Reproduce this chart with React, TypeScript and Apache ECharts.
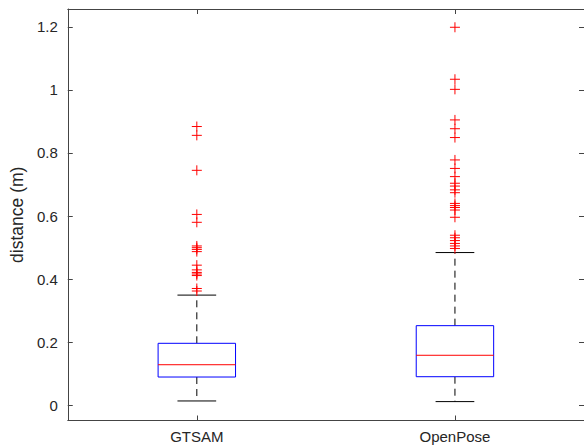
import React, { useEffect, useRef } from "react";
import * as echarts from "echarts";

const categories = ["GTSAM", "OpenPose"];
const lowerWhisker = [0.013, 0.011];
const q1 = [0.089, 0.09];
const median = [0.128, 0.158];
const q3 = [0.196, 0.252];
const upperWhisker = [0.349, 0.484];
const gtsamOutliers = [
  0.884, 0.856, 0.745, 0.605, 0.58, 0.505, 0.4995, 0.494, 0.487, 0.444, 0.429,
  0.421, 0.416, 0.411, 0.37, 0.362,
];
const openposeOutliers = [
  1.199, 1.034, 1.002, 0.905, 0.877, 0.849, 0.778, 0.751, 0.725, 0.704, 0.695,
  0.683, 0.674, 0.64, 0.633, 0.627, 0.619, 0.596, 0.539, 0.531, 0.522, 0.513,
  0.505, 0.497,
];
const yTicks = [0, 0.2, 0.4, 0.6, 0.8, 1, 1.2];

const AXIS = "#444444";
const TEXT = "#262626";
const FONT = "Liberation Sans, Arial, Helvetica, sans-serif";

export default function App() {
  const ref = useRef<HTMLDivElement>(null);
  useEffect(() => {
    const chart = echarts.init(ref.current!, null, { renderer: "svg" });
    const boxData = categories.map((_, i) => [
      i,
      lowerWhisker[i],
      q1[i],
      median[i],
      q3[i],
      upperWhisker[i],
    ]);
    const outlierData: number[][] = [];
    gtsamOutliers.forEach((v) => outlierData.push([0, v]));
    openposeOutliers.forEach((v) => outlierData.push([1, v]));

    const yBase = {
      type: "value",
      min: -0.049,
      max: 1.257,
      splitLine: { show: false },
      axisLine: { show: true, onZero: false, lineStyle: { color: AXIS, width: 1 } },
      axisTick: {
        show: true,
        inside: true,
        length: 5,
        customValues: yTicks,
        lineStyle: { color: AXIS },
      },
    };

    const xBase = {
      type: "category",
      data: categories,
      boundaryGap: true,
      axisLine: { show: true, onZero: false, lineStyle: { color: AXIS, width: 1 } },
      axisTick: {
        show: true,
        inside: true,
        length: 5,
        alignWithLabel: true,
        lineStyle: { color: AXIS },
      },
      splitLine: { show: false },
    };

    chart.setOption({
      animation: false,
      backgroundColor: "#ffffff",
      grid: { left: 65, top: 9, width: 521, height: 411.5, containLabel: false },
      xAxis: [
        {
          ...xBase,
          position: "bottom",
          axisLabel: {
            color: TEXT,
            fontSize: 15,
            fontFamily: FONT,
            margin: 8,
          },
        },
        {
          ...xBase,
          position: "top",
          axisLabel: { show: false },
        },
      ],
      yAxis: [
        {
          ...yBase,
          position: "left",
          name: "distance (m)",
          nameLocation: "middle",
          nameGap: 34,
          nameTextStyle: { color: TEXT, fontSize: 17.5, fontFamily: FONT },
          axisLabel: {
            color: TEXT,
            fontSize: 15,
            fontFamily: FONT,
            margin: 10,
            customValues: yTicks,
            formatter: (v: number) => String(Math.round(v * 10) / 10),
          },
        },
        {
          ...yBase,
          position: "right",
          axisLabel: { show: false },
        },
      ],
      series: [
        {
          type: "custom",
          xAxisIndex: 0,
          yAxisIndex: 0,
          data: boxData,
          renderItem: (params: any, api: any) => {
            const x = api.value(0);
            const pLw = api.coord([x, api.value(1)]);
            const pQ1 = api.coord([x, api.value(2)]);
            const pMed = api.coord([x, api.value(3)]);
            const pQ3 = api.coord([x, api.value(4)]);
            const pUw = api.coord([x, api.value(5)]);
            const band = api.size([1, 0])[0];
            const half = (band * 0.3) / 2;
            const cap = half / 2;
            const cx = pMed[0];
            return {
              type: "group",
              children: [
                {
                  type: "line",
                  shape: { x1: cx, y1: pQ3[1], x2: cx, y2: pUw[1] },
                  style: { stroke: "#000", lineWidth: 1, lineDash: [7, 5] },
                },
                {
                  type: "line",
                  shape: { x1: cx, y1: pQ1[1], x2: cx, y2: pLw[1] },
                  style: { stroke: "#000", lineWidth: 1, lineDash: [7, 5] },
                },
                {
                  type: "line",
                  shape: { x1: cx - cap, y1: pUw[1], x2: cx + cap, y2: pUw[1] },
                  style: { stroke: "#000", lineWidth: 1 },
                },
                {
                  type: "line",
                  shape: { x1: cx - cap, y1: pLw[1], x2: cx + cap, y2: pLw[1] },
                  style: { stroke: "#000", lineWidth: 1 },
                },
                {
                  type: "rect",
                  shape: {
                    x: cx - half,
                    y: pQ3[1],
                    width: half * 2,
                    height: pQ1[1] - pQ3[1],
                  },
                  style: { fill: "#ffffff", stroke: "#0000ff", lineWidth: 1 },
                },
                {
                  type: "line",
                  shape: { x1: cx - half, y1: pMed[1], x2: cx + half, y2: pMed[1] },
                  style: { stroke: "#ff0000", lineWidth: 1 },
                },
              ],
            };
          },
        },
        {
          type: "custom",
          xAxisIndex: 0,
          yAxisIndex: 0,
          data: outlierData,
          renderItem: (params: any, api: any) => {
            const p = api.coord([api.value(0), api.value(1)]);
            const s = 5;
            return {
              type: "group",
              children: [
                {
                  type: "line",
                  shape: { x1: p[0] - s, y1: p[1], x2: p[0] + s, y2: p[1] },
                  style: { stroke: "#ff0000", lineWidth: 1 },
                },
                {
                  type: "line",
                  shape: { x1: p[0], y1: p[1] - s, x2: p[0], y2: p[1] + s },
                  style: { stroke: "#ff0000", lineWidth: 1 },
                },
              ],
            };
          },
        },
      ],
    });
    return () => chart.dispose();
  }, []);
  return (
    <div
      ref={ref}
      style={{ width: 584, height: 447, position: "absolute", left: 0, top: 0 }}
    />
  );
}
